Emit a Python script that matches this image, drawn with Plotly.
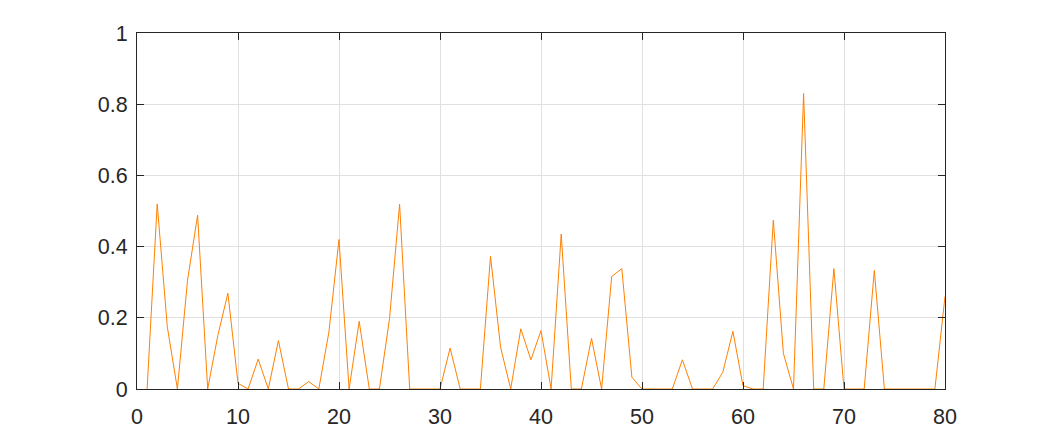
import plotly.graph_objects as go

x_vals = list(range(1, 81))
y_vals = [
    0.0, 0.52, 0.175, 0.0, 0.305, 0.488, 0.0, 0.15, 0.269, 0.016,
    0.0, 0.084, 0.0, 0.136, 0.0, 0.0, 0.021, 0.0, 0.16, 0.42,
    0.0, 0.19, 0.0, 0.0, 0.197, 0.519, 0.0, 0.0, 0.0, 0.0,
    0.115, 0.0, 0.0, 0.0, 0.373, 0.117, 0.0, 0.169, 0.082, 0.164,
    0.0, 0.435, 0.0, 0.0, 0.142, 0.0, 0.316, 0.338, 0.033, 0.0,
    0.0, 0.0, 0.0, 0.082, 0.0, 0.0, 0.0, 0.047, 0.162, 0.009,
    0.0, 0.0, 0.474, 0.10, 0.0, 0.83, 0.0, 0.0, 0.338, 0.0,
    0.0, 0.0, 0.333, 0.0, 0.0, 0.0, 0.0, 0.0, 0.0, 0.26,
]
x_ticks = [0, 10, 20, 30, 40, 50, 60, 70, 80]
y_ticks = [0, 0.2, 0.4, 0.6, 0.8, 1]
y_tick_text = ["0", "0.2", "0.4", "0.6", "0.8", "1"]

fig = go.Figure()
fig.add_trace(go.Scatter(
    x=x_vals, y=y_vals, mode="lines",
    line=dict(color="#FF8000", width=1),
    showlegend=False,
))

axis_common = dict(
    showline=True, linecolor="#262626", linewidth=1, mirror="ticks",
    ticks="inside", ticklen=7, tickcolor="#262626",
    showgrid=True, gridcolor="#e0e0e0", gridwidth=1,
    zeroline=False,
    tickfont=dict(family="Liberation Sans, Arial, sans-serif", size=21.5, color="#262626"),
)

fig.update_layout(
    width=1045, height=437,
    margin=dict(l=129, r=108, t=25, b=56, autoexpand=False),
    paper_bgcolor="white", plot_bgcolor="white",
    xaxis=dict(range=[0, 80], tickvals=x_ticks, ticklabelstandoff=8, **axis_common),
    yaxis=dict(range=[0, 1], tickvals=y_ticks, ticktext=y_tick_text, ticklabelstandoff=4, **axis_common),
)

fig.write_html("out.html")
